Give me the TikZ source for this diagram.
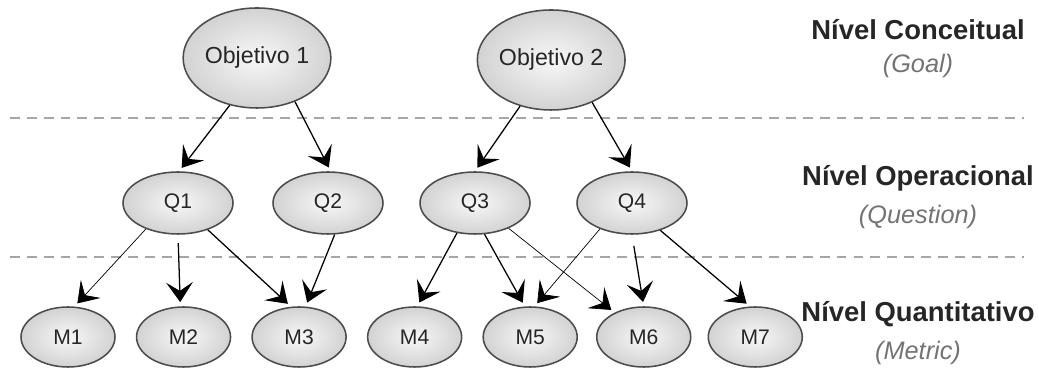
\documentclass[tikz,border=0pt]{standalone}
\usepackage{fontspec}
\setmainfont{Liberation Sans}
\usetikzlibrary{arrows.meta, positioning, shapes.geometric}

\begin{document}
\begin{tikzpicture}[
    bubble/.style={ellipse, draw=black!70, line width=1.1pt, inner sep=0pt, inner color=gray!6, outer color=gray!35, text=black!85, font=\fontsize{15}{18}\selectfont},
    goal/.style={bubble, minimum width=3.55cm, minimum height=2.5cm, font=\fontsize{16.5}{20}\selectfont},
    question/.style={bubble, minimum width=2.75cm, minimum height=1.55cm},
    metric/.style={bubble, minimum width=2.35cm, minimum height=1.5cm},
    level/.style={font=\bfseries\fontsize{19.5}{23}\selectfont, text=black!85},
    sub/.style={font=\itshape\fontsize{18}{22}\selectfont, text=black!55},
    sep/.style={gray!70, line width=0.8pt, dash pattern=on 7pt off 5pt},
    link/.style={->, line width=0.9pt, shorten >=3pt},
    thin link/.style={->, line width=0.5pt, shorten >=3pt},
    >={Stealth[length=14pt, width=19pt, inset=6pt]}
    ]
    \useasboundingbox (0,0) rectangle (25.95,9.25);

    % levels
    \draw[sep] (0.25,6.3) -- (25.6,6.3);
    \draw[sep] (0.25,2.825) -- (25.6,2.825);

    \node[goal] (obj1) at (6.425,7.8) {Objetivo 1};
    \node[goal] (obj2) at (13.78,7.75) {Objetivo 2};

    \node[question] (q1) at (4.45,4.175) {Q1};
    \node[question] (q2) at (8.2,4.175) {Q2};
    \node[question] (q3) at (11.875,4.175) {Q3};
    \node[question] (q4) at (15.8,4.175) {Q4};

    \node[metric] (m1) at (1.7,0.825) {M1};
    \node[metric, right=0.5cm of m1] (m2) {M2};
    \node[metric, right=0.5cm of m2] (m3) {M3};
    \node[metric, right=0.5cm of m3] (m4) {M4};
    \node[metric, right=0.5cm of m4] (m5) {M5};
    \node[metric, right=0.45cm of m5] (m6) {M6};
    \node[metric, right=0.4cm of m6] (m7) {M7};

    \node[level] (lvc) at (22.95,8.5) {Nível Conceitual};
    \node[sub, below=0.1cm of lvc] (goal) {(Goal)};
    \node[level] (lvo) at (22.95,4.8) {Nível Operacional};
    \node[sub, below=0.1cm of lvo] (quest) {(Question)};
    \node[level] (lvq) at (22.95,1.4) {Nível Quantitativo};
    \node[sub, below=0.1cm of lvq] (metr) {(Metric)};

    \draw[link] (obj1.240) -- (q1.88);
    \draw[link] (obj1.311) -- (q2.85);
    \draw[link] (obj2.236) -- (q3.north);
    \draw[link] (obj2.314) -- (q4.north);

    \draw[thin link] (q1.219) -- (m1.78);
    \draw[link, shorten <=6pt] (q1.south) -- (m2.96);
    \draw[link] (q1.318) -- (m3.105);
    \draw[link] (q2.282) -- (m3.78);

    \draw[link] (q3.239) -- (m4.85);
    \draw[link] (q3.287) -- (m5.100);
    \draw[thin link] (q3.323) -- (m6.140);
    \draw[thin link] (q4.219) -- (m5.82);
    \draw[link, shorten <=8pt] (q4.south) -- (m6.north);
    \draw[link] (q4.316) -- (m7.100);
  \end{tikzpicture}
\end{document}
